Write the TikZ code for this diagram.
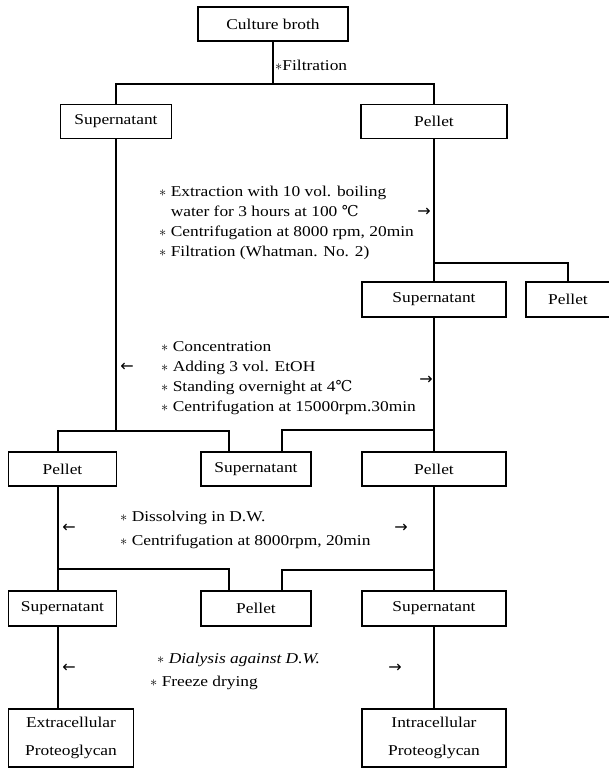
\documentclass[tikz,border=0pt]{standalone}
\usepackage{fontspec}
\setmainfont{Liberation Serif}[FakeStretch=1.16]
\newfontfamily\degfont{DejaVu Serif}
\newfontfamily\arrfont{DejaVu Sans}
\newcommand{\st}{$\ast$\ }
\begin{document}
\begin{tikzpicture}
  [x=1pt, y=-1pt,
   box/.style={draw, line width=1.4pt, inner sep=0pt, minimum height=34pt,
     font=\fontsize{15}{20}\selectfont},
   txt/.style={anchor=west, inner sep=0pt, align=left, font=\fontsize{15}{20}\selectfont},
   arr/.style={inner sep=0pt, font=\arrfont\fontsize{16}{16}\selectfont},
   link/.style={line width=1.2pt}]
  \useasboundingbox (0,0) rectangle (609,771);
  % boxes
  \node[box, minimum width=150pt] (broth) at (273,24) {Culture broth};
  \node[box, minimum width=111pt] (sup1) at (116,121.5) {Supernatant};
  \node[box, minimum width=146pt] (pel1) at (434,121.5) {Pellet};
  \node[box, minimum width=144pt, minimum height=35pt] (sup2) at (434,299.5) {Supernatant};
  \node[box, minimum width=84pt, minimum height=35pt] (pel2) at (568,299.5) {Pellet};
  \node[box, minimum width=108pt] (pel3L) at (62.5,469) {Pellet};
  \node[box, minimum width=110pt] (sup3) at (256,469) {Supernatant};
  \node[box, minimum width=144pt] (pel3R) at (434,469) {Pellet};
  \node[box, minimum width=108pt, minimum height=35pt] (sup4L) at (62.5,608.5) {Supernatant};
  \node[box, minimum width=110pt, minimum height=35pt] (pel4) at (256,608.5) {Pellet};
  \node[box, minimum width=144pt, minimum height=35pt] (sup4R) at (434,608.5) {Supernatant};
  \node[box, minimum width=125pt, minimum height=58pt, align=center] (extra) at (71,738)
    {Extracellular\\[8pt]Proteoglycan};
  \node[box, minimum width=144pt, minimum height=58pt, align=center] (intra) at (434,738)
    {Intracellular\\[8pt]Proteoglycan};
  % columns and junctions
  \coordinate (cL) at (58,0);
  \coordinate (cM) at (229,0);
  \coordinate (cN) at (282,0);
  \coordinate (j1) at (273,84);
  \coordinate (j2) at (434,263);
  \coordinate (j3) at (116,431);
  \coordinate (j4) at (434,430);
  \coordinate (j5) at (58,569);
  \coordinate (j6) at (434,570);
  % tree
  \draw[link] (broth) -- (j1);
  \draw[link] (sup1.north) |- (j1) -| (pel1.north);
  \draw[link] (pel1) -- (sup2);
  \draw[link] (j2) -| (pel2.north);
  \draw[link] (sup1) -- (j3);
  \draw[link] (cL |- pel3L.north) |- (j3) -| (cM |- sup3.north);
  \draw[link] (sup2) -- (pel3R);
  \draw[link] (j4) -| (cN |- sup3.north);
  \draw[link] (cL |- pel3L.south) -- (cL |- sup4L.north);
  \draw[link] (j5) -| (cM |- pel4.north);
  \draw[link] (pel3R) -- (sup4R);
  \draw[link] (j6) -| (cN |- pel4.north);
  \draw[link] (cL |- sup4L.south) -- (cL |- extra.north);
  \draw[link] (sup4R) -- (intra);
  % steps
  \node[txt] (filt) at (275,65) {$\ast$Filtration};
  \node[txt] (step1) at (159,222.5) {\st Extraction with 10 vol. boiling\\
    \phantom{\st}water for 3 hours at 100 {\degfont ℃}\\
    \st Centrifugation at 8000 rpm, 20min\\
    \st Filtration (Whatman. No. 2)};
  \node[txt] (step2) at (161,378) {\st Concentration\\
    \st Adding 3 vol. EtOH\\
    \st Standing overnight at 4{\degfont ℃}\\
    \st Centrifugation at 15000rpm.30min};
  \node[txt] (step3) at (120,530) {\st Dissolving in D.W.\\[4pt]
    \st Centrifugation at 8000rpm, 20min};
  \node[txt] (step4a) at (157,660) {\st\itshape Dialysis against D.W.};
  \node[txt] (step4b) at (150,683) {\st Freeze drying};
  % arrows
  \node[arr] (a1) at (424,212) {→};
  \node[arr] (a2) at (127,367) {←};
  \node[arr] (a3) at (426,380) {→};
  \node[arr] (a4) at (69,528) {←};
  \node[arr] (a5) at (401,528) {→};
  \node[arr] (a6) at (69,668) {←};
  \node[arr] (a7) at (395,668) {→};
\end{tikzpicture}
\end{document}
